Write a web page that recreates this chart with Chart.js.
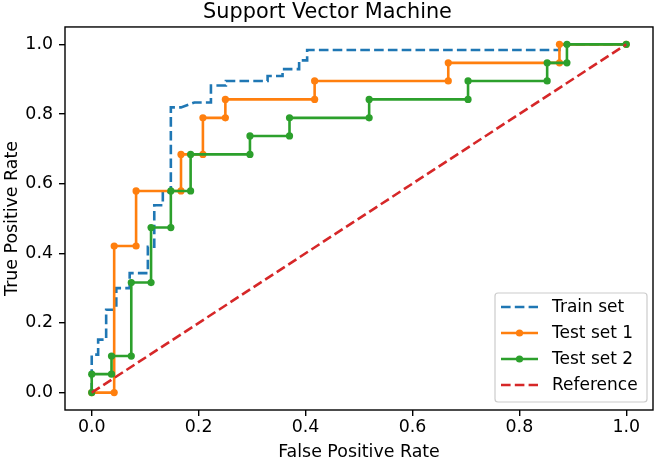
<!DOCTYPE html>
<html>
<head>
<meta charset="utf-8">
<script src="https://cdn.jsdelivr.net/npm/chart.js@4"></script>
<style>
  html, body { margin: 0; padding: 0; background: #fff; }
  #wrap { width: 657px; height: 461px; }
</style>
</head>
<body>
<div id="wrap"><canvas id="rocChart"></canvas></div>
<script>
const titleText = 'Support Vector Machine';
const seriesNames = ['Train set', 'Test set 1', 'Test set 2', 'Reference'];
const tickValues = [0, 0.2, 0.4, 0.6, 0.8, 1.0];

// train set (dashed, no markers)
const fprTrain = [0, 0, 0.012, 0.012, 0.027, 0.027, 0.046, 0.046, 0.071, 0.071, 0.105, 0.105, 0.117, 0.117, 0.133, 0.133, 0.148, 0.148, 0.167, 0.192, 0.223, 0.223, 0.251, 0.251, 0.329, 0.329, 0.357, 0.357, 0.388, 0.388, 0.403, 0.403, 0.875, 0.875, 1.0];
const tprTrain = [0, 0.109, 0.109, 0.152, 0.152, 0.238, 0.238, 0.300, 0.300, 0.343, 0.343, 0.419, 0.419, 0.538, 0.538, 0.576, 0.576, 0.819, 0.819, 0.833, 0.833, 0.882, 0.882, 0.895, 0.895, 0.909, 0.909, 0.929, 0.929, 0.954, 0.954, 0.984, 0.984, 1.0, 1.0];

// test set 1
const fprTest1 = [0, 0.042, 0.042, 0.083, 0.083, 0.167, 0.167, 0.208, 0.208, 0.250, 0.250, 0.417, 0.417, 0.667, 0.667, 0.875, 0.875, 1.0];
const tprTest1 = [0, 0, 0.421, 0.421, 0.579, 0.579, 0.684, 0.684, 0.789, 0.789, 0.842, 0.842, 0.895, 0.895, 0.947, 0.947, 1.0, 1.0];

// test set 2
const fprTest2 = [0, 0, 0.037, 0.037, 0.074, 0.074, 0.111, 0.111, 0.148, 0.148, 0.185, 0.185, 0.296, 0.296, 0.370, 0.370, 0.519, 0.519, 0.704, 0.704, 0.852, 0.852, 0.889, 0.889, 1.0];
const tprTest2 = [0, 0.053, 0.053, 0.105, 0.105, 0.316, 0.316, 0.474, 0.474, 0.579, 0.579, 0.684, 0.684, 0.737, 0.737, 0.789, 0.789, 0.842, 0.842, 0.895, 0.895, 0.947, 0.947, 1.0, 1.0];

// chance line
const fprRef = [0, 1];
const tprRef = [0, 1];

const toPoints = (xs, ys) => xs.map((x, i) => ({ x: x, y: ys[i] }));

const FONT = 'DejaVu Sans';
const LW = 2.6;
const DASH = [9.6, 4.2];

const data = {
    datasets: [
        { label: seriesNames[0], data: toPoints(fprTrain, tprTrain), borderColor: '#1f77b4', backgroundColor: '#1f77b4',
          borderWidth: LW, borderDash: DASH, pointRadius: 0, order: 4 },
        { label: seriesNames[1], data: toPoints(fprTest1, tprTest1), borderColor: '#ff7f0e', backgroundColor: '#ff7f0e',
          borderWidth: LW, pointRadius: 3.6, pointBorderWidth: 0, order: 3 },
        { label: seriesNames[2], data: toPoints(fprTest2, tprTest2), borderColor: '#2ca02c', backgroundColor: '#2ca02c',
          borderWidth: LW, pointRadius: 3.6, pointBorderWidth: 0, order: 2 },
        { label: seriesNames[3], data: toPoints(fprRef, tprRef), borderColor: '#d62728', backgroundColor: '#d62728',
          borderWidth: LW, borderDash: DASH, pointRadius: 0, order: 1 }
    ]
};

// box around the plot, like matplotlib spines
const framePlugin = {
    id: 'frame',
    afterDatasetsDraw(chart) {
        const a = chart.chartArea, ctx = chart.ctx;
        ctx.save();
        ctx.strokeStyle = '#000';
        ctx.lineWidth = 1.4;
        ctx.strokeRect(a.left, a.top, a.right - a.left, a.bottom - a.top);
        ctx.restore();
    }
};

// legend in the lower right corner of the plot
const legendPlugin = {
    id: 'boxLegend',
    afterDraw(chart) {
        const ctx = chart.ctx;
        const x0 = 495, y0 = 293, w = 152, h = 109;
        ctx.save();
        ctx.fillStyle = 'rgba(255,255,255,0.8)';
        ctx.strokeStyle = '#cccccc';
        ctx.lineWidth = 1.2;
        ctx.beginPath();
        ctx.roundRect(x0, y0, w, h, 3);
        ctx.fill();
        ctx.stroke();
        ctx.font = '17px "' + FONT + '"';
        ctx.textBaseline = 'middle';
        chart.data.datasets.forEach((ds, i) => {
            const y = 307 + i * 26;
            ctx.strokeStyle = ds.borderColor;
            ctx.lineWidth = LW;
            ctx.setLineDash(ds.borderDash || []);
            ctx.beginPath();
            ctx.moveTo(501, y);
            ctx.lineTo(538, y);
            ctx.stroke();
            ctx.setLineDash([]);
            if (ds.pointRadius > 0) {
                ctx.fillStyle = ds.borderColor;
                ctx.beginPath();
                ctx.arc(519.5, y, ds.pointRadius, 0, Math.PI * 2);
                ctx.fill();
            }
            ctx.fillStyle = '#000';
            ctx.fillText(ds.label, 552, y + 1);
        });
        ctx.restore();
    }
};

const axisCommon = {
    type: 'linear',
    min: -0.05,
    max: 1.05,
    afterBuildTicks: s => { s.ticks = tickValues.map(v => ({ value: v })); },
    grid: { drawOnChartArea: false, drawTicks: true, tickLength: 6, color: '#000', lineWidth: 1.4 },
    border: { display: false },
};

const config = {
    type: 'line',
    data: data,
    options: {
        responsive: false,
        animation: false,
        devicePixelRatio: 1,
        layout: { padding: { left: 0, right: 2, top: 0, bottom: 0 } },
        scales: {
            x: Object.assign({}, axisCommon, {
                ticks: { color: '#000', font: { family: FONT, size: 17.4 }, padding: 1, maxRotation: 0,
                         callback: v => v.toFixed(1) },
                title: { display: true, text: 'False Positive Rate', color: '#000',
                         font: { family: FONT, size: 17.4, lineHeight: 1.0 }, padding: { top: 0, bottom: 0 } },
                afterFit: s => { s.height = 51; }
            }),
            y: Object.assign({}, axisCommon, {
                ticks: { color: '#000', font: { family: FONT, size: 17.4 }, padding: 6,
                         callback: v => v.toFixed(1) },
                title: { display: true, text: 'True Positive Rate', color: '#000',
                         font: { family: FONT, size: 17.4 }, padding: { top: 2, bottom: 0 } },
                afterFit: s => { s.width = 65; }
            })
        },
        plugins: {
            legend: { display: false },
            tooltip: { enabled: false },
            title: {
                display: true,
                text: titleText,
                color: '#000',
                font: { family: FONT, size: 20.8, weight: 'normal' },
                padding: { top: 0, bottom: 2 }
            }
        }
    },
    plugins: [framePlugin, legendPlugin]
};

const canvas = document.getElementById('rocChart');
canvas.width = 657;
canvas.height = 461;
const rocChart = new Chart(canvas, config);
</script>
</body>
</html>
